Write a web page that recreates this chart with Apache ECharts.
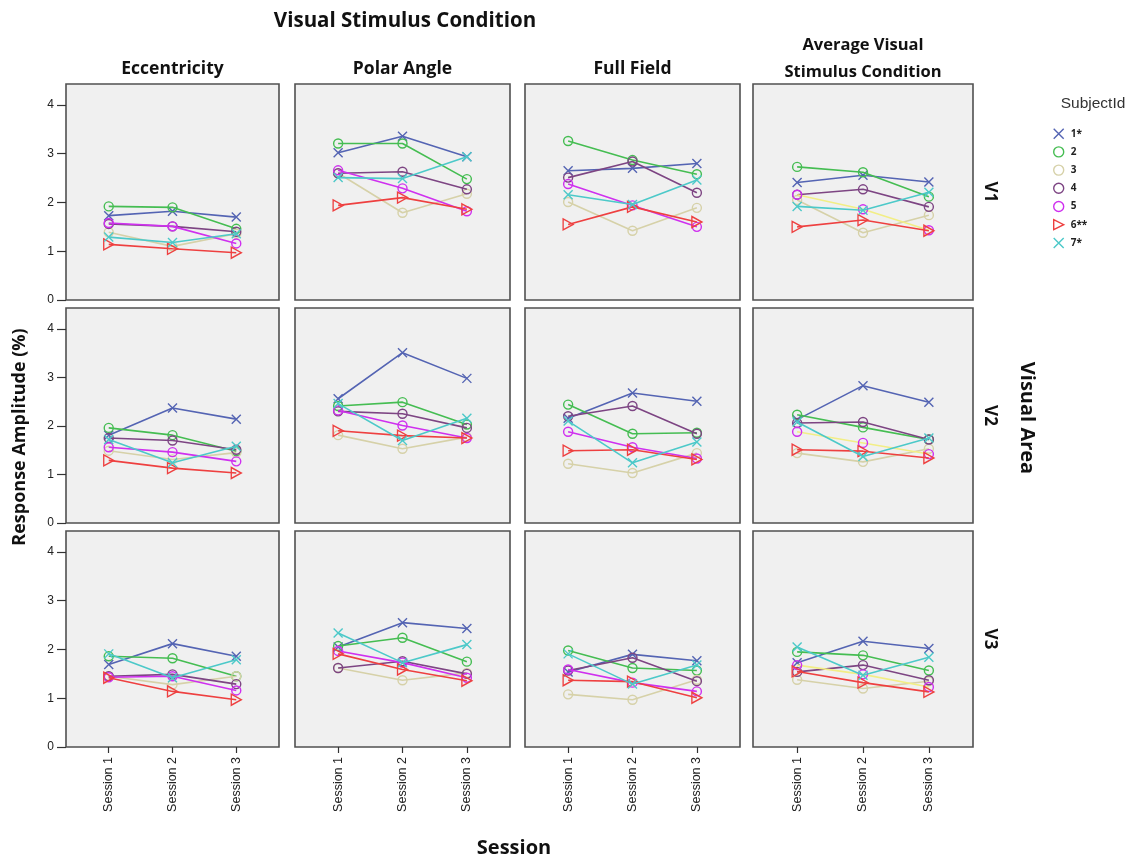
<!DOCTYPE html>
<html>
<head>
<meta charset="utf-8">
<script src="https://cdn.jsdelivr.net/npm/echarts@6/dist/echarts.min.js"></script>
<style>
html,body{margin:0;padding:0;background:#fff;}
#chart{width:1133px;height:861px;}
</style>
</head>
<body>
<div id="chart"></div>
<script>
// ---------- data ----------
const sessions = ['Session 1', 'Session 2', 'Session 3'];
const subjects = ['1*', '2', '3', '4', '5', '6**', '7*'];
const conditions = ['Eccentricity', 'Polar Angle', 'Full Field', 'Average Visual\nStimulus Condition'];
const areas = ['V1', 'V2', 'V3'];
const yTicks = [0, 1, 2, 3, 4];

// each array: one row per subject (1*,2,3,4,5,6**,7*), values for Session 1..3
const v1Eccentricity = [[1.73,1.82,1.70],[1.92,1.90,1.46],[1.39,1.10,1.36],[1.56,1.51,1.40],[1.58,1.51,1.16],[1.14,1.05,0.97],[1.29,1.18,1.36]];
const v1PolarAngle   = [[3.02,3.36,2.94],[3.21,3.21,2.48],[2.60,1.79,2.18],[2.60,2.63,2.27],[2.66,2.29,1.82],[1.94,2.10,1.86],[2.51,2.49,2.94]];
const v1FullField    = [[2.65,2.70,2.80],[3.26,2.87,2.58],[2.01,1.42,1.89],[2.51,2.84,2.20],[2.38,1.94,1.50],[1.55,1.91,1.60],[2.16,1.96,2.46]];
const v1Average      = [[2.41,2.56,2.42],[2.73,2.62,2.12],[2.05,1.38,1.74],[2.16,2.27,1.91],[2.16,1.86,1.43],[1.50,1.64,1.42],[1.92,1.84,2.21]];

const v2Eccentricity = [[1.81,2.37,2.14],[1.96,1.81,1.48],[1.49,1.31,1.45],[1.75,1.70,1.51],[1.56,1.46,1.27],[1.29,1.13,1.03],[1.72,1.24,1.58]];
const v2PolarAngle   = [[2.56,3.51,2.98],[2.41,2.49,2.03],[1.81,1.53,1.77],[2.30,2.25,1.96],[2.32,2.01,1.75],[1.90,1.80,1.75],[2.46,1.70,2.16]];
const v2FullField    = [[2.16,2.68,2.51],[2.44,1.84,1.86],[1.22,1.03,1.44],[2.20,2.41,1.84],[1.88,1.56,1.33],[1.49,1.51,1.31],[2.10,1.24,1.67]];
const v2Average      = [[2.13,2.83,2.49],[2.23,1.97,1.72],[1.44,1.26,1.53],[2.06,2.08,1.72],[1.88,1.65,1.42],[1.51,1.48,1.34],[2.08,1.37,1.75]];

const v3Eccentricity = [[1.69,2.12,1.86],[1.86,1.82,1.45],[1.45,1.28,1.45],[1.45,1.49,1.29],[1.43,1.45,1.16],[1.42,1.14,0.97],[1.91,1.42,1.79]];
const v3PolarAngle   = [[2.05,2.55,2.43],[2.07,2.24,1.75],[1.62,1.37,1.52],[1.62,1.76,1.50],[1.97,1.73,1.42],[1.91,1.59,1.36],[2.34,1.73,2.10]];
const v3FullField    = [[1.54,1.90,1.77],[1.98,1.62,1.57],[1.08,0.97,1.38],[1.57,1.83,1.35],[1.59,1.32,1.14],[1.37,1.34,1.01],[1.91,1.29,1.68]];
const v3Average      = [[1.73,2.17,2.02],[1.95,1.88,1.57],[1.38,1.20,1.35],[1.54,1.68,1.37],[1.68,1.49,1.23],[1.55,1.32,1.13],[2.05,1.47,1.84]];

const panelData = [
  [v1Eccentricity, v1PolarAngle, v1FullField, v1Average],
  [v2Eccentricity, v2PolarAngle, v2FullField, v2Average],
  [v3Eccentricity, v3PolarAngle, v3FullField, v3Average]
];

// ---------- styles ----------
const colors = ['#5464b3', '#45bd52', '#d6d1a8', '#7d4583', '#cf30ef', '#ee4040', '#4cc9c9'];
const avgSubject5Line = '#f2ee86';
const SYM_X = 'path://M0,0L10,10M10,0L0,10';
const SYM_O = 'path://M10,5A5,5,0,1,1,0,5A5,5,0,1,1,10,5Z';
const SYM_T = 'path://M0,0L10,5L0,10Z';
const symbols = [SYM_X, SYM_O, SYM_O, SYM_O, SYM_O, SYM_T, SYM_X];
const symSizes = [9, 9, 9, 9, 9, [10, 11], 9];

const colLeft = [66, 295, 525, 753];
const colWidth = [213, 215, 215, 220];
const rowTop = [84, 308, 531];
const rowHeight = [216, 215, 216];
const titleFont = '"Open Sans", "DejaVu Sans", sans-serif';
const tickFont = '"Liberation Sans", Arial, sans-serif';

const grids = [], xAxes = [], yAxes = [], series = [];
let idx = 0;
for (let r = 0; r < 3; r++) {
  for (let c = 0; c < 4; c++) {
    grids.push({
      left: colLeft[c], top: rowTop[r], width: colWidth[c], height: rowHeight[r],
      show: true, backgroundColor: '#f0f0f0', borderColor: '#505050', borderWidth: 1.6
    });
    const bottom = r === 2;
    xAxes.push({
      type: 'value', gridIndex: idx, min: 0.33, max: 3.67,
      axisLine: { show: false },
      splitLine: { show: false },
      axisTick: { show: bottom, customValues: [1, 2, 3], length: 6, lineStyle: { color: '#333', width: 1.2 } },
      axisLabel: {
        show: bottom, customValues: [1, 2, 3], rotate: 90, margin: 10,
        fontFamily: tickFont, fontSize: 12.5, color: '#222',
        formatter: v => sessions[Math.round(v) - 1]
      }
    });
    const left = c === 0;
    yAxes.push({
      type: 'value', gridIndex: idx, min: 0, max: 4.43,
      axisLine: { show: false },
      splitLine: { show: false },
      axisTick: { show: left, customValues: yTicks, length: 9, lineStyle: { color: '#333', width: 1.2 } },
      axisLabel: { show: left, customValues: yTicks, margin: 12, fontFamily: tickFont, fontSize: 12, color: '#222' }
    });
    const rows = panelData[r][c];
    for (let s = 0; s < subjects.length; s++) {
      const lineColor = (c === 3 && s === 4) ? avgSubject5Line : colors[s];
      series.push({
        type: 'line', name: subjects[s], xAxisIndex: idx, yAxisIndex: idx,
        data: rows[s].map((v, i) => [i + 1, v]),
        symbol: symbols[s], symbolSize: symSizes[s], showAllSymbol: true,
        lineStyle: { color: lineColor, width: 1.6 },
        itemStyle: { color: 'rgba(0,0,0,0)', borderColor: colors[s], borderWidth: 1.4 },
        emphasis: { disabled: true },
        animation: false, z: 2 + s
      });
    }
    idx++;
  }
}

const graphics = [];
graphics.push({ type: 'text', x: 405, y: 21, style: { text: 'Visual Stimulus Condition', align: 'center', verticalAlign: 'middle', font: 'bold 20.5px ' + titleFont, fill: '#111' } });
const colCenter = colLeft.map((l, i) => l + colWidth[i] / 2);
for (let c = 0; c < 4; c++) {
  const lines = conditions[c].split('\n');
  lines.forEach((t, k) => {
    const y = lines.length === 1 ? 69 : (45 + k * 27);
    const size = lines.length === 1 ? 17.5 : 16.5;
    graphics.push({ type: 'text', x: colCenter[c], y: y, style: { text: t, align: 'center', verticalAlign: 'middle', font: 'bold ' + size + 'px ' + titleFont, fill: '#111' } });
  });
}
for (let r = 0; r < 3; r++) {
  graphics.push({ type: 'text', x: 990, y: rowTop[r] + rowHeight[r] / 2, rotation: -Math.PI / 2, style: { text: areas[r], align: 'center', verticalAlign: 'middle', font: 'bold 17px ' + titleFont, fill: '#111' } });
}
graphics.push({ type: 'text', x: 1027, y: 418, rotation: -Math.PI / 2, style: { text: 'Visual Area', align: 'center', verticalAlign: 'middle', font: 'bold 20px ' + titleFont, fill: '#111' } });
graphics.push({ type: 'text', x: 20, y: 437, rotation: Math.PI / 2, style: { text: 'Response Amplitude (%)', align: 'center', verticalAlign: 'middle', font: 'bold 18px ' + titleFont, fill: '#111' } });
graphics.push({ type: 'text', x: 514, y: 848, style: { text: 'Session', align: 'center', verticalAlign: 'middle', font: 'bold 20px ' + titleFont, fill: '#111' } });
graphics.push({ type: 'text', x: 1093, y: 104, style: { text: 'SubjectId', align: 'center', verticalAlign: 'middle', font: '15.5px ' + tickFont, fill: '#333' } });

const legendData = subjects.map((name, s) => ({
  name: name, icon: symbols[s],
  itemStyle: { color: 'rgba(0,0,0,0)', borderColor: colors[s], borderWidth: 1.4 }
}));

const option = {
  backgroundColor: '#ffffff',
  animation: false,
  grid: grids,
  xAxis: xAxes,
  yAxis: yAxes,
  series: series,
  legend: {
    data: legendData, orient: 'vertical', left: 1048, top: 123,
    itemWidth: 14, itemHeight: 10, itemGap: 6.8, selectedMode: false,
    textStyle: { fontFamily: titleFont, fontWeight: 'bold', fontSize: 10, color: '#222', lineHeight: 10 }
  },
  graphic: graphics
};

const chart = echarts.init(document.getElementById('chart'), null, { renderer: 'canvas' });
chart.setOption(option);
</script>
</body>
</html>
